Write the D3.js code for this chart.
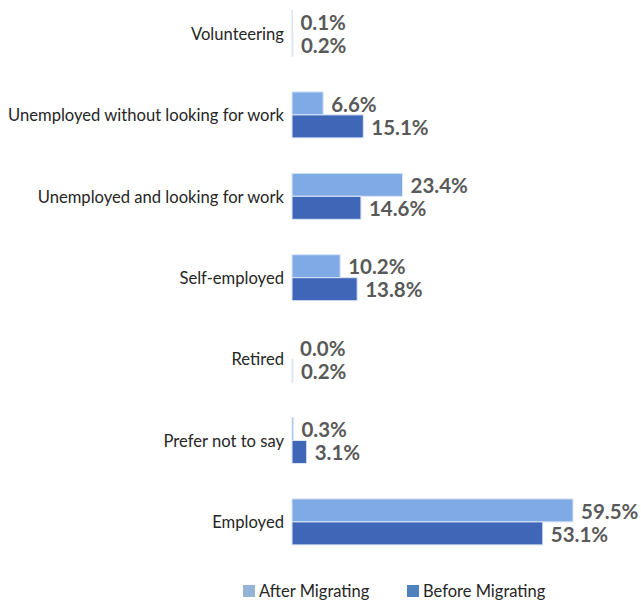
<!DOCTYPE html>
<html>
<head>
<meta charset="utf-8">
<script src="https://cdn.jsdelivr.net/npm/d3@7"></script>
<style>
  html, body { margin: 0; padding: 0; background: #fff; }
  svg { display: block; }
</style>
</head>
<body>
<svg id="chart" width="641" height="601"></svg>
<script>
// Employment status before and after migrating (% of respondents)
const categories = [
  "Volunteering",
  "Unemployed without looking for work",
  "Unemployed and looking for work",
  "Self-employed",
  "Retired",
  "Prefer not to say",
  "Employed"
];
const afterMigrating  = [0.1, 6.6, 23.4, 10.2, 0.0, 0.3, 59.5];
const beforeMigrating = [0.2, 15.1, 14.6, 13.8, 0.2, 3.1, 53.1];
const seriesNames = ["After Migrating", "Before Migrating"];

const barColors    = ["#7faae6", "#4066b8"];
const legendColors = ["#95b3d7", "#4f81bd"];
const fontFamily = "Lato, 'Open Sans', sans-serif";

const svg = d3.select("#chart");

const x = d3.scaleLinear().domain([0, 59.5]).range([292, 573]);

const y = d3.scaleBand()
  .domain(categories)
  .range([-7.2, 562.6])
  .paddingInner(0.435)
  .paddingOuter(0.2175);

const ySub = d3.scaleBand()
  .domain(seriesNames)
  .range([0, y.bandwidth()]);

const rows = categories.map((c, i) => ({
  category: c,
  values: [
    { series: seriesNames[0], value: afterMigrating[i], color: barColors[0] },
    { series: seriesNames[1], value: beforeMigrating[i], color: barColors[1] }
  ]
}));

const groups = svg.append("g").selectAll("g")
  .data(rows)
  .join("g")
  .attr("transform", d => `translate(0,${y(d.category)})`);

groups.selectAll("rect")
  .data(d => d.values)
  .join("rect")
  .attr("x", x(0))
  .attr("y", d => ySub(d.series))
  .attr("width", d => Math.max(0, x(d.value) - x(0)))
  .attr("height", ySub.bandwidth())
  .attr("fill", d => d.color)
  .attr("stroke", "#dce6f5")
  .attr("stroke-width", 1);

groups.selectAll("text.value")
  .data(d => d.values)
  .join("text")
  .attr("class", "value")
  .attr("x", d => x(d.value) + 8)
  .attr("y", d => ySub(d.series) + ySub.bandwidth() / 2)
  .attr("dy", "0.4em")
  .attr("font-family", fontFamily)
  .attr("font-weight", "bold")
  .attr("font-size", 20.5)
  .attr("fill", "#595959")
  .text(d => d.value.toFixed(1) + "%");

// Category axis (labels only, no line or ticks)
const yAxis = d3.axisLeft(y).tickSize(0).tickPadding(0);
const axisG = svg.append("g")
  .attr("transform", `translate(284,1)`)
  .call(yAxis);
axisG.select(".domain").remove();
axisG.selectAll("text")
  .attr("font-family", fontFamily)
  .attr("font-size", 16.6)
  .attr("fill", "#262626");

// Legend
const legend = svg.append("g").attr("transform", "translate(0,591)");
const legendX = [243, 407];
seriesNames.forEach((name, i) => {
  const g = legend.append("g").attr("transform", `translate(${legendX[i]},0)`);
  g.append("rect")
    .attr("x", 0).attr("y", -6)
    .attr("width", 12).attr("height", 12)
    .attr("fill", legendColors[i]);
  g.append("text")
    .attr("x", 16).attr("y", 0).attr("dy", "0.36em")
    .attr("font-family", fontFamily)
    .attr("font-size", 16.5)
    .attr("fill", "#262626")
    .text(name);
});
</script>
</body>
</html>
